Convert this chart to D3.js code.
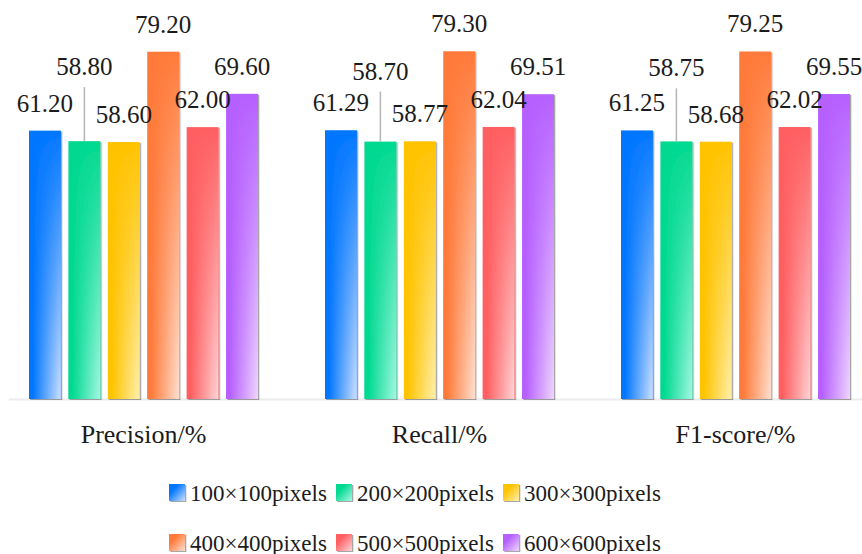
<!DOCTYPE html>
<html>
<head>
<meta charset="utf-8">
<script src="https://cdn.jsdelivr.net/npm/d3@7/dist/d3.min.js"></script>
<style>
  html, body { margin: 0; padding: 0; background: #fff; }
  svg { display: block; }
  svg text { font-family: "Liberation Serif", "Times New Roman", Times, "DejaVu Serif", serif; }
</style>
</head>
<body>
<svg id="chart" width="862" height="554"></svg>
<script>
// Metric groups along the x axis
const categories = ["Precision/%", "Recall/%", "F1-score/%"];
// Input resolutions (one bar per resolution in each group)
const series = ["100×100pixels", "200×200pixels", "300×300pixels",
                "400×400pixels", "500×500pixels", "600×600pixels"];
// Scores per resolution, in category order
const res100 = [61.20, 61.29, 61.25];
const res200 = [58.80, 58.70, 58.75];
const res300 = [58.60, 58.77, 58.68];
const res400 = [79.20, 79.30, 79.25];
const res500 = [62.00, 62.04, 62.02];
const res600 = [69.60, 69.51, 69.55];
const seriesValues = [res100, res200, res300, res400, res500, res600];

// Base colour and the pale tint each bar fades to at its lower right
const baseColors = ["#0076ff", "#00d990", "#ffc300", "#ff7a3a", "#ff5f61", "#b660ff"];
const tintColors = ["#cfe0ff", "#a6f7e2", "#fff0b0", "#ffe1d2", "#ffd6d8", "#eed6ff"];

const fontStack = "'Liberation Serif', 'Times New Roman', Times, 'DejaVu Serif', serif";

const svg = d3.select("#chart");
const defs = svg.append("defs");

// Soft shadow along the right/bottom edge of each bar
const shadow = defs.append("filter").attr("id", "barShadow")
  .attr("x", "-20%").attr("y", "-5%").attr("width", "150%").attr("height", "115%");
shadow.append("feDropShadow").attr("dx", 1.3).attr("dy", 1).attr("stdDeviation", 0.5)
  .attr("flood-color", "#000").attr("flood-opacity", 0.35);

// Vertical mask: the tint appears gradually toward the bottom of a bar
const vGrad = defs.append("linearGradient").attr("id", "vFade")
  .attr("x1", 0).attr("y1", 0).attr("x2", 0).attr("y2", 1);
vGrad.append("stop").attr("offset", 0).attr("stop-color", "#000");
vGrad.append("stop").attr("offset", 0.08).attr("stop-color", "#1a1a1a");
vGrad.append("stop").attr("offset", 1).attr("stop-color", "#fff");
const mask = defs.append("mask").attr("id", "fadeMask")
  .attr("maskContentUnits", "objectBoundingBox");
mask.append("rect").attr("x", 0).attr("y", 0).attr("width", 1).attr("height", 1)
  .attr("fill", "url(#vFade)");

// Horizontal gradients from full colour on the left to the tint on the right
series.forEach((s, i) => {
  const g = defs.append("linearGradient").attr("id", "hGrad" + i)
    .attr("x1", 0).attr("y1", 0).attr("x2", 1).attr("y2", 0);
  g.append("stop").attr("offset", 0).attr("stop-color", baseColors[i]);
  g.append("stop").attr("offset", 0.12).attr("stop-color", baseColors[i]);
  g.append("stop").attr("offset", 1).attr("stop-color", tintColors[i]);
  // Diagonal gradient for the legend swatches
  const d = defs.append("linearGradient").attr("id", "dGrad" + i)
    .attr("x1", 0).attr("y1", 0).attr("x2", 1).attr("y2", 1);
  d.append("stop").attr("offset", 0.3).attr("stop-color", baseColors[i]);
  d.append("stop").attr("offset", 1).attr("stop-color", tintColors[i]);
});

// Scales
const x0 = d3.scaleBand().domain(categories).range([-4.5, 883.5]).padding(0);
const x1 = d3.scaleBand().domain(series).range([33.5, 262.5]).paddingInner(0.19).paddingOuter(0);
const y = d3.scaleLinear().domain([0, 80]).range([399, 48.2]);

const textColor = "#1b1b1b";

// Baseline
svg.append("line")
  .attr("x1", 9).attr("x2", 862)
  .attr("y1", y(0) + 0.5).attr("y2", y(0) + 0.5)
  .attr("stroke", "#ececec").attr("stroke-width", 2);

// Category axis labels
const xAxis = d3.axisBottom(x0).tickSize(0).tickPadding(0);
const axisG = svg.append("g").attr("transform", `translate(0,${y(0)})`).call(xAxis)
  .attr("font-family", fontStack);
axisG.select(".domain").remove();
axisG.selectAll(".tick text")
  .attr("dy", null).attr("y", 44)
  .attr("font-family", fontStack)
  .attr("font-size", 26).attr("fill", textColor);

// Flatten to one record per bar
const bars = [];
categories.forEach((c, ci) => {
  series.forEach((s, si) => {
    bars.push({ category: c, ci, series: s, si, value: seriesValues[si][ci] });
  });
});

const groups = svg.append("g").selectAll("g.bar")
  .data(bars).join("g")
  .attr("class", "bar")
  .attr("filter", "url(#barShadow)");

groups.append("rect")
  .attr("x", d => x0(d.category) + x1(d.series))
  .attr("y", d => y(d.value))
  .attr("width", x1.bandwidth())
  .attr("height", d => y(0) - y(d.value))
  .attr("fill", d => baseColors[d.si]);

groups.append("rect")
  .attr("x", d => x0(d.category) + x1(d.series))
  .attr("y", d => y(d.value))
  .attr("width", x1.bandwidth())
  .attr("height", d => y(0) - y(d.value))
  .attr("fill", d => "url(#hGrad" + d.si + ")")
  .attr("mask", "url(#fadeMask)");

// Value labels; the 200×200 label is lifted above its neighbours with a leader line
const labelGap = 19;
const liftedSeries = 1;
const labelLift = [66, 62, 65];
const labels = svg.append("g").attr("font-family", fontStack);
bars.forEach(d => {
  const cx = x0(d.category) + x1(d.series) + x1.bandwidth() / 2;
  const top = y(d.value);
  let by = top - labelGap;
  if (d.si === liftedSeries) {
    by = top - labelLift[d.ci];
    labels.append("line")
      .attr("x1", cx).attr("x2", cx)
      .attr("y1", by + 12).attr("y2", top)
      .attr("stroke", "#b4b4b4").attr("stroke-width", 1.5);
  }
  labels.append("text")
    .attr("x", cx).attr("y", by)
    .attr("text-anchor", "middle")
    .attr("font-family", fontStack)
    .attr("font-size", 25).attr("fill", textColor)
    .text(d3.format(".2f")(d.value));
});

// Legend: three columns, two rows
const legend = svg.append("g").attr("font-family", fontStack);
series.forEach((s, i) => {
  const col = i % 3, row = Math.floor(i / 3);
  const lx = 169 + col * 167;
  const ly = 501 + row * 50;
  legend.append("rect")
    .attr("x", lx).attr("y", ly - 17)
    .attr("width", 16).attr("height", 17)
    .attr("fill", "url(#dGrad" + i + ")")
    .attr("filter", "url(#barShadow)");
  legend.append("text")
    .attr("x", lx + 21).attr("y", ly)
    .attr("font-family", fontStack)
    .attr("font-size", 23).attr("fill", textColor)
    .text(s);
});
</script>
</body>
</html>
